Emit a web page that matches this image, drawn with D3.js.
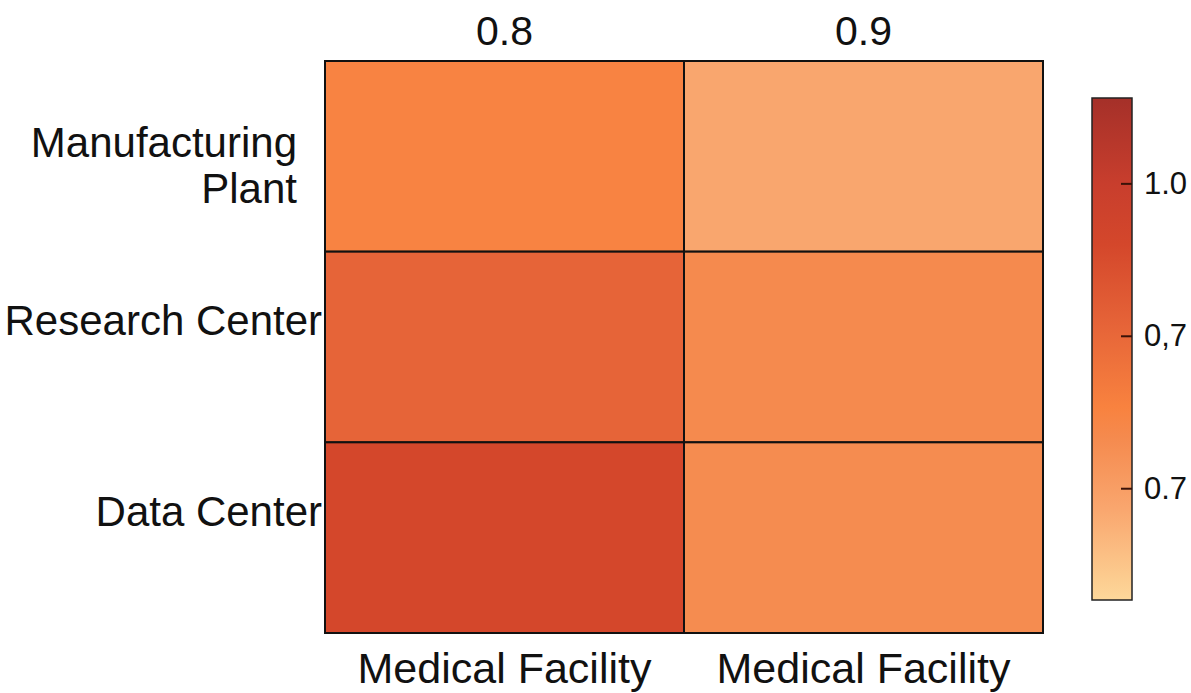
<!DOCTYPE html>
<html>
<head>
<meta charset="utf-8">
<script src="https://cdn.jsdelivr.net/npm/d3@7"></script>
<style>
	body { margin: 0; background: #fff; }
	text { font-family: "Liberation Sans", Arial, Helvetica, sans-serif; fill: #111; }
</style>
</head>
<body>
<div id="chart"></div>
<script>
// heatmap data
var rows = ["Manufacturing Plant", "Research Center", "Data Center"];
var cols = ["0.8", "0.9"];
var colLabelsBottom = ["Medical Facility", "Medical Facility"];
var values = [
	[0.775, 0.68],
	[0.86, 0.75],
	[0.94, 0.745]
];

// colour bar
var colorStops = [0.59, 0.68, 0.75, 0.78, 0.86, 0.94, 1.0, 1.084];
var colorRange = ["#FDD89A", "#F9A66E", "#F58A4E", "#F8823F", "#E66438", "#D4472B", "#C83E2D", "#A53029"];
var barTicks = [1.0, 0.85, 0.7];
var barTickLabels = ["1.0", "0,7", "0.7"];

var W = 1191, H = 693;
var plot = {left: 325, right: 1043, top: 61, bottom: 633};
var bar = {left: 1092, right: 1132, top: 98, bottom: 600};

var svg = d3.select("#chart").append("svg")
	.attr("width", W)
	.attr("height", H);

var xS = d3.scaleBand()
	.domain(d3.range(cols.length))
	.range([plot.left, plot.right]);

var yS = d3.scaleBand()
	.domain(d3.range(rows.length))
	.range([plot.top, plot.bottom]);

var color = d3.scaleLinear()
	.domain(colorStops)
	.range(colorRange)
	.interpolate(d3.interpolateRgb)
	.clamp(true);

//cells
var cells = [];
values.forEach(function(r, i)
{
	r.forEach(function(v, j)
	{
		cells.push({row: i, col: j, value: v});
	});
});

svg.append("g").selectAll(".cell")
	.data(cells)
	.enter().append("rect")
		.attr("class", "cell")
		.attr("x", function(d) { return xS(d.col); })
		.attr("y", function(d) { return yS(d.row); })
		.attr("width", xS.bandwidth())
		.attr("height", yS.bandwidth())
		.attr("fill", function(d) { return color(d.value); })
		.attr("stroke", "#111")
		.attr("stroke-width", 2);

//column labels top and bottom
svg.append("g").selectAll(".colTop")
	.data(cols)
	.enter().append("text")
		.attr("class", "colTop")
		.attr("x", function(d, i) { return xS(i) + xS.bandwidth() / 2; })
		.attr("y", plot.top - 16)
		.style("text-anchor", "middle")
		.style("font-size", "41px")
		.text(function(d) { return d; });

svg.append("g").selectAll(".colBottom")
	.data(colLabelsBottom)
	.enter().append("text")
		.attr("class", "colBottom")
		.attr("x", function(d, i) { return xS(i) + xS.bandwidth() / 2; })
		.attr("y", plot.bottom + 50)
		.style("text-anchor", "middle")
		.style("font-size", "43px")
		.text(function(d) { return d; });

//row labels, long names wrap onto two lines
svg.append("g").selectAll(".rowLabel")
	.data(rows)
	.enter().append("text")
		.attr("class", "rowLabel")
		.style("text-anchor", "end")
		.style("font-size", "42px")
		.each(function(d, i)
		{
			var cy = yS(i) + yS.bandwidth() / 2;
			var words = d.split(" ");
			var t = d3.select(this);
			if(d.length > 16)
			{
				t.attr("y", cy + 1);
				words.forEach(function(w, k)
				{
					t.append("tspan")
						.attr("x", plot.left - 28)
						.attr("dy", k ? 46 : 0)
						.text(w);
				});
			}
			else
			{
				t.attr("x", plot.left - 3)
					.attr("y", cy - 12)
					.text(d);
			}
		});

//colour bar gradient, sampled from the colour scale
var barS = d3.scaleLinear()
	.domain([colorStops[0], colorStops[colorStops.length - 1]])
	.range([bar.bottom, bar.top]);

var grad = svg.append("defs").append("linearGradient")
	.attr("id", "barGrad")
	.attr("x1", 0).attr("y1", 1)
	.attr("x2", 0).attr("y2", 0);

grad.selectAll("stop")
	.data(colorStops)
	.enter().append("stop")
		.attr("offset", function(d) { return (d - colorStops[0]) / (colorStops[colorStops.length - 1] - colorStops[0]); })
		.attr("stop-color", function(d) { return color(d); });

svg.append("rect")
	.attr("x", bar.left)
	.attr("y", bar.top)
	.attr("width", bar.right - bar.left)
	.attr("height", bar.bottom - bar.top)
	.attr("fill", "url(#barGrad)")
	.attr("stroke", "#222")
	.attr("stroke-width", 1.5);

var barAxis = d3.axisRight(barS)
	.tickValues(barTicks)
	.tickFormat(function(d, i) { return barTickLabels[i]; })
	.tickSizeInner(0)
	.tickSizeOuter(0)
	.tickPadding(12);

var ax = svg.append("g")
	.attr("transform", "translate(" + bar.right + ",0)")
	.call(barAxis);

ax.select(".domain").remove();
ax.selectAll(".tick text")
	.style("font-size", "31px")
	.attr("fill", "#111")
	.attr("font-family", null);
ax.selectAll(".tick line")
	.attr("x1", -11)
	.attr("x2", 0)
	.attr("stroke", "#3a1208")
	.attr("stroke-width", 2);
</script>
</body>
</html>
